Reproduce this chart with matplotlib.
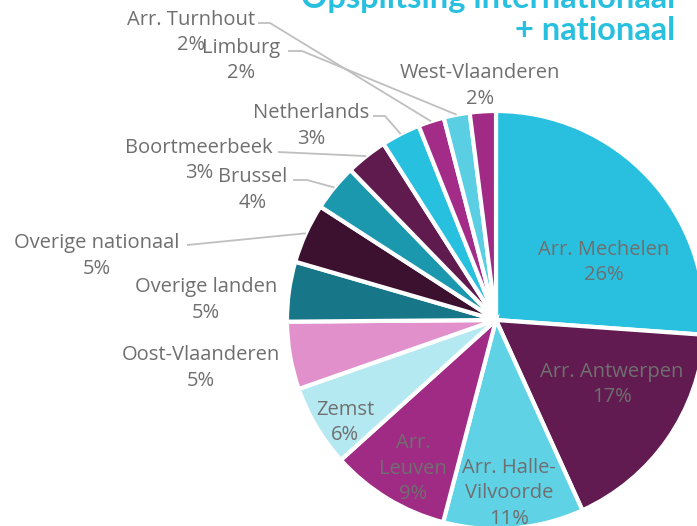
import math
import matplotlib
matplotlib.use("Agg")
import matplotlib.pyplot as plt

# data
names = ["Arr. Mechelen", "Arr. Antwerpen", "Arr. Halle-\nVilvoorde", "Arr.\nLeuven", "Zemst",
         "Oost-Vlaanderen", "Overige landen", "Overige nationaal", "Brussel", "Boortmeerbeek",
         "Netherlands", "Arr. Turnhout", "Limburg", "West-Vlaanderen"]
shares = [26.0, 17.0, 10.8, 9.2, 6.3, 5.2, 4.6, 4.6, 3.6, 3.2, 3.0, 2.0, 2.0, 2.0]
colors = ["#29C0DF", "#621B50", "#5FD2E6", "#A02B84", "#B4E9F2", "#E190CB", "#177789",
          "#3C1130", "#1B98AE", "#5F1A4E", "#28C0DF", "#A22C88", "#5ACFE3", "#A02A84"]

# label placement in pixels (centre x, first baseline y)
label_pos = [(604, 255), (612, 377), (509, 473), (413, 448), (345, 415),
             (201, 360), (206, 292), (97, 248), (253, 182), (199, 153),
             (311, 118), (191, 25), (241, 53), (480, 78)]
# leader lines: start point near text, optional knee
leaders = {7: [(187, 245)], 8: [(293, 180), (307, 180)], 9: [(278, 152)],
           10: [(373, 116), (385, 116)], 11: [(258, 23), (270, 23)],
           12: [(288, 51), (302, 51)]}

W, H = 697, 526
CX, CY, R = 496, 320, 209
TXT = "#6f6f6f"
plt.rcParams['font.family'] = ['Open Sans', 'DejaVu Sans']

def px2data(px, py):
    return (px - CX) / R, (CY - py) / R

fig = plt.figure(figsize=(W / 100, H / 100), dpi=100)
ax = fig.add_axes([(CX - R) / W, (H - CY - R) / H, 2 * R / W, 2 * R / H])
wedges, _ = ax.pie(shares, colors=colors, startangle=90, counterclock=False, radius=1,
                   wedgeprops=dict(edgecolor="white", linewidth=3))
ax.set_xlim(-1, 1)
ax.set_ylim(-1, 1)
ax.axis("off")

total = sum(shares)
for i, name in enumerate(names):
    pct = "%d%%" % round(shares[i] / total * 100)
    lines = name.split("\n") + [pct]
    px, py = label_pos[i]
    for k, ln in enumerate(lines):
        x, y = px2data(px, py + k * 25.5)
        ax.text(x, y, ln, ha="center", va="baseline", fontsize=14.5, color=TXT, clip_on=False)
    if i in leaders:
        pts = [px2data(*p) for p in leaders[i]]
        w = wedges[i]
        mid = math.radians((w.theta1 + w.theta2) / 2)
        pts.append((math.cos(mid), math.sin(mid)))
        ax.plot([p[0] for p in pts], [p[1] for p in pts], color="#bfbfbf", lw=1.3,
                clip_on=False, solid_capstyle="butt")

fig.text(675 / W, 1 - 8 / H, "Opsplitsing internationaal", ha="right", va="baseline",
         fontsize=23.5, fontweight="bold", color="#29C0E0", family=["Lato", "DejaVu Sans"])
fig.text(675 / W, 1 - 40 / H, "+ nationaal", ha="right", va="baseline",
         fontsize=23.5, fontweight="bold", color="#29C0E0", family=["Lato", "DejaVu Sans"])

fig.savefig("out.png", dpi=100)
